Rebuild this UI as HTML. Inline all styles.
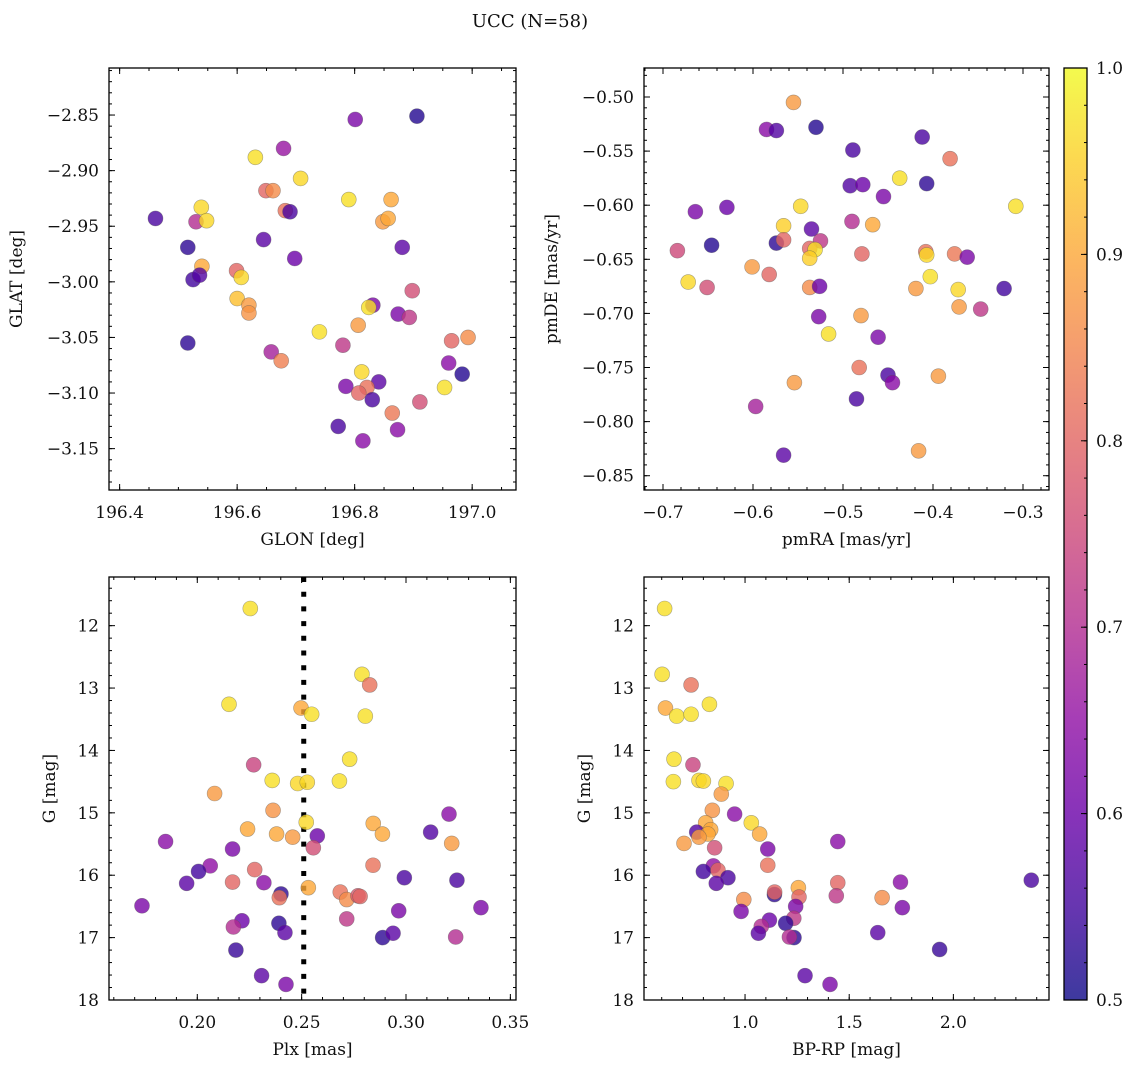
<!DOCTYPE html>
<html><head><meta charset="utf-8"><style>
body{margin:0;background:#fff;}
svg{display:block;font-family:"DejaVu Serif","Liberation Serif",serif;}
</style></head><body>
<svg id="fig" width="1136" height="1067" viewBox="0 0 1136 1067">
<text x="530" y="27" font-size="18" text-anchor="middle" fill="#111">UCC (N=58)</text>
</svg>
<script>
// Panel 1: GLON / GLAT
const glon=[196.801,196.906,196.679,196.631,196.708,196.649,196.661,196.790,196.862,196.682,196.690,196.848,196.857,196.461,196.539,196.530,196.548,196.645,196.516,196.881,196.698,196.540,196.525,196.536,196.599,196.607,196.600,196.620,196.620,196.898,196.831,196.824,196.874,196.893,196.740,196.806,196.516,196.780,196.658,196.675,196.965,196.993,196.960,196.983,196.812,196.785,196.841,196.821,196.807,196.830,196.953,196.911,196.864,196.772,196.873,196.814];
const glat=[-2.854,-2.851,-2.880,-2.888,-2.907,-2.918,-2.918,-2.926,-2.926,-2.936,-2.937,-2.946,-2.943,-2.943,-2.933,-2.946,-2.945,-2.962,-2.969,-2.969,-2.979,-2.986,-2.998,-2.994,-2.990,-2.996,-3.015,-3.021,-3.028,-3.008,-3.021,-3.023,-3.029,-3.032,-3.045,-3.039,-3.055,-3.057,-3.063,-3.071,-3.053,-3.050,-3.073,-3.083,-3.081,-3.094,-3.090,-3.095,-3.100,-3.106,-3.095,-3.108,-3.118,-3.130,-3.133,-3.143];
const prob1=[.62,.52,.66,.97,.96,.8,.86,.97,.9,.82,.56,.88,.9,.56,.96,.7,.96,.58,.53,.58,.6,.9,.55,.57,.8,.96,.93,.88,.87,.76,.62,.97,.62,.72,.97,.88,.53,.72,.68,.84,.8,.86,.64,.52,.96,.62,.58,.82,.8,.56,.97,.76,.83,.56,.64,.64];
// Panel 2: pmRA / pmDE
const pmra=[-0.555,-0.585,-0.574,-0.530,-0.489,-0.412,-0.381,-0.437,-0.407,-0.492,-0.478,-0.455,-0.308,-0.664,-0.629,-0.547,-0.566,-0.535,-0.490,-0.467,-0.684,-0.646,-0.574,-0.566,-0.525,-0.537,-0.531,-0.537,-0.479,-0.408,-0.407,-0.376,-0.362,-0.601,-0.582,-0.672,-0.651,-0.537,-0.526,-0.419,-0.403,-0.372,-0.321,-0.371,-0.347,-0.527,-0.480,-0.516,-0.461,-0.482,-0.450,-0.445,-0.394,-0.554,-0.597,-0.485,-0.566,-0.416];
const pmde=[-0.505,-0.530,-0.531,-0.528,-0.549,-0.537,-0.557,-0.575,-0.580,-0.582,-0.581,-0.592,-0.601,-0.606,-0.602,-0.601,-0.619,-0.622,-0.615,-0.618,-0.642,-0.637,-0.635,-0.632,-0.633,-0.640,-0.641,-0.649,-0.645,-0.643,-0.646,-0.645,-0.648,-0.657,-0.664,-0.671,-0.676,-0.676,-0.675,-0.677,-0.666,-0.678,-0.677,-0.694,-0.696,-0.703,-0.702,-0.719,-0.722,-0.750,-0.757,-0.764,-0.758,-0.764,-0.786,-0.779,-0.831,-0.827];
const prob2=[.88,.64,.57,.52,.56,.56,.82,.97,.53,.57,.6,.62,.97,.62,.6,.96,.95,.58,.7,.9,.75,.52,.53,.8,.72,.8,.97,.95,.8,.82,.96,.83,.62,.88,.8,.96,.76,.86,.6,.88,.97,.96,.55,.88,.72,.62,.88,.97,.62,.82,.56,.64,.88,.88,.68,.56,.58,.88];
// Panel 3: Plx / G
const plx=[0.2254,0.2789,0.2826,0.2152,0.2497,0.2548,0.2805,0.2730,0.2270,0.2359,0.2481,0.2527,0.2681,0.2083,0.2363,0.3206,0.2522,0.2843,0.2241,0.2380,0.2887,0.2457,0.3118,0.2575,0.1848,0.3219,0.2556,0.2169,0.2062,0.2006,0.2275,0.2842,0.2992,0.1949,0.2169,0.2319,0.3244,0.2532,0.2401,0.2393,0.2685,0.2716,0.2770,0.2780,0.1735,0.3359,0.2965,0.2716,0.2214,0.2173,0.2391,0.2420,0.2888,0.2938,0.3238,0.2185,0.2308,0.2425];
const g3=[11.725,12.78,12.95,13.26,13.32,13.42,13.45,14.14,14.23,14.48,14.53,14.51,14.49,14.69,14.96,15.02,15.15,15.17,15.26,15.34,15.34,15.39,15.31,15.37,15.46,15.49,15.56,15.58,15.85,15.94,15.91,15.84,16.04,16.13,16.11,16.12,16.08,16.20,16.30,16.36,16.27,16.39,16.33,16.34,16.49,16.52,16.57,16.70,16.73,16.83,16.77,16.92,17.00,16.93,16.99,17.20,17.61,17.75];
const prob3=[.97,.97,.82,.97,.9,.97,.97,.97,.74,.97,.96,.96,.97,.88,.87,.64,.96,.9,.9,.9,.9,.88,.57,.6,.64,.88,.76,.62,.65,.55,.8,.82,.56,.58,.8,.64,.56,.9,.53,.82,.82,.86,.78,.8,.62,.62,.62,.72,.6,.7,.53,.58,.53,.58,.7,.54,.58,.62];
const plxLine=[0.251];
// Panel 4: BP-RP / G
const bprp=[0.614,0.602,0.741,0.829,0.618,0.672,0.741,0.659,0.750,0.656,0.779,0.800,0.909,0.886,0.843,0.950,1.030,0.811,0.835,1.070,0.768,0.822,0.779,0.707,0.854,1.445,1.109,1.109,0.848,0.800,0.870,0.918,0.862,1.445,1.746,2.374,1.256,1.141,1.142,1.259,1.438,1.658,0.994,1.243,1.755,0.981,1.234,1.117,1.078,1.195,1.064,1.235,1.213,1.637,1.934,1.288,1.408];
const g4=[11.725,12.78,12.95,13.26,13.32,13.45,13.42,14.14,14.23,14.50,14.48,14.49,14.53,14.70,14.96,15.02,15.16,15.16,15.27,15.34,15.31,15.34,15.39,15.49,15.56,15.46,15.58,15.84,15.85,15.94,15.92,16.04,16.13,16.12,16.11,16.08,16.20,16.31,16.27,16.35,16.33,16.36,16.39,16.50,16.52,16.58,16.69,16.72,16.82,16.77,16.93,17.00,16.99,16.92,17.19,17.61,17.75];
const prob4=[.97,.97,.82,.97,.9,.97,.97,.97,.74,.97,.96,.96,.97,.88,.87,.64,.96,.9,.9,.9,.57,.9,.88,.88,.76,.64,.62,.82,.65,.55,.8,.56,.58,.8,.64,.56,.9,.53,.8,.8,.72,.86,.86,.62,.62,.62,.72,.6,.7,.53,.58,.53,.7,.58,.54,.58,.62];
const cbTicks=[0.5,0.6,0.7,0.8,0.9,1.0];

const NS='http://www.w3.org/2000/svg';
const svg=document.getElementById('fig');
function mk(tag,attrs,parent){const e=document.createElementNS(NS,tag);for(const k in attrs)e.setAttribute(k,attrs[k]);(parent||svg).appendChild(e);return e;}
const stops=['#0d0887','#41049d','#6a00a8','#8f0da4','#b12a90','#cc4778','#e16462','#f2844b','#fca636','#fcce25','#f0f921'];
function hex(h){return [1,3,5].map(i=>parseInt(h.substr(i,2),16));}
function plasma(t){t=Math.max(0,Math.min(1,t));const f=t*10,i=Math.min(9,Math.floor(f)),r=f-i;const a=hex(stops[i]),b=hex(stops[i+1]);return 'rgb('+a.map((v,k)=>Math.round(v+(b[k]-v)*r)).join(',')+')';}
function cmap(p){return plasma((p-0.5)/0.5);}
function fmt(v,d){const s=Math.abs(v).toFixed(d);return (v<-1e-9?'\u2212':'')+s;}

function panel(o){
  const g=mk('g',{});
  
  
  const sx=v=>o.x0+(v-o.xmin)/(o.xmax-o.xmin)*(o.x1-o.x0);
  const sy=v=>o.y0+(v-o.ymax)/(o.ymin-o.ymax)*(o.y1-o.y0);
  const tg=mk('g',{stroke:'#000','stroke-width':1},g);
  function ticksX(step,len,labels){const s=Math.ceil((o.xmin)/step-1e-6);for(let k=s;k*step<=o.xmax+1e-9;k++){const v=k*step,x=sx(v);mk('line',{x1:x,x2:x,y1:o.y1,y2:o.y1-len},tg);mk('line',{x1:x,x2:x,y1:o.y0,y2:o.y0+len},tg);
    if(labels){const t=mk('text',{x:x,y:o.y1+28,'font-size':17,'text-anchor':'middle',fill:'#111',stroke:'none'},g);t.textContent=fmt(v,o.xd);}}}
  function ticksY(step,len,labels){const s=Math.ceil(Math.min(o.ymin,o.ymax)/step-1e-6);const hi=Math.max(o.ymin,o.ymax);for(let k=s;k*step<=hi+1e-9;k++){const v=k*step,y=sy(v);mk('line',{x1:o.x0,x2:o.x0+len,y1:y,y2:y},tg);mk('line',{x1:o.x1,x2:o.x1-len,y1:y,y2:y},tg);
    if(labels){const t=mk('text',{x:o.x0-10,y:y+6,'font-size':17,'text-anchor':'end',fill:'#111',stroke:'none'},g);t.textContent=fmt(v,o.yd);}}}
  ticksX(o.xminor,3,false);ticksX(o.xmajor,6,true);
  ticksY(o.yminor,3,false);ticksY(o.ymajor,6,true);
  if(o.vline){o.vline.forEach(v=>{const l=mk('line',{x1:sx(v),x2:sx(v),y1:o.y0,y2:o.y1,stroke:'#000','stroke-width':5,'stroke-dasharray':'5 9.7'},g);});}
  const pg=mk('g',{},g);
  
  
  for(let i=0;i<o.xs.length;i++){
    const c=mk('circle',{cx:sx(o.xs[i]),cy:sy(o.ys[i]),r:7.5,fill:cmap(o.c[i]),'fill-opacity':0.8,stroke:'#555','stroke-opacity':0.5,'stroke-width':0.6},pg);
    
    
  }
  const fr=mk('rect',{x:o.x0,y:o.y0,width:o.x1-o.x0,height:o.y1-o.y0,fill:'none',stroke:'#000','stroke-width':1.3},g);
  
  
  const xl=mk('text',{x:(o.x0+o.x1)/2,y:o.y1+55,'font-size':17,'text-anchor':'middle',fill:'#111'},g);xl.textContent=o.xlabel;
  
  
  const yx=o.ylx,yy=(o.y0+o.y1)/2;
  const yl=mk('text',{x:yx,y:yy,'font-size':17,'text-anchor':'middle',fill:'#111',transform:'rotate(-90 '+yx+' '+yy+')'},g);yl.textContent=o.ylabel;
  
  
}
panel({name:'glon-glat-panel',x0:109,x1:516,y0:68,y1:490,xmin:196.3819,xmax:197.0746,ymin:-3.1872,ymax:-2.8077,xmajor:0.2,xminor:0.05,ymajor:0.05,yminor:0.01,xd:1,yd:2,xs:glon,ys:glat,c:prob1,xlabel:'GLON [deg]',ylabel:'GLAT [deg]',ylx:22});
panel({name:'pm-panel',x0:644,x1:1049,y0:68,y1:490,xmin:-0.7211,xmax:-0.2711,ymin:-0.8632,ymax:-0.4732,xmajor:0.1,xminor:0.02,ymajor:0.05,yminor:0.01,xd:1,yd:2,xs:pmra,ys:pmde,c:prob2,xlabel:'pmRA [mas/yr]',ylabel:'pmDE [mas/yr]',ylx:557});
panel({name:'plx-g-panel',x0:109,x1:516,y0:577,y1:1000,xmin:0.1577,xmax:0.3527,ymin:18.0,ymax:11.22,xmajor:0.05,xminor:0.01,ymajor:1,yminor:0.2,xd:2,yd:0,xs:plx,ys:g3,c:prob3,xlabel:'Plx [mas]',ylabel:'G [mag]',ylx:55,vline:plxLine});
panel({name:'cmd-panel',x0:644,x1:1049,y0:577,y1:1000,xmin:0.515,xmax:2.459,ymin:18.0,ymax:11.22,xmajor:0.5,xminor:0.1,ymajor:1,yminor:0.2,xd:1,yd:0,xs:bprp,ys:g4,c:prob4,xlabel:'BP-RP [mag]',ylabel:'G [mag]',ylx:590});

// colorbar
const cb=mk('g',{});


const defs=mk('defs',{},cb);
const lg=mk('linearGradient',{id:'pl',x1:0,y1:1,x2:0,y2:0},defs);
stops.forEach((s,i)=>mk('stop',{offset:i/10,'stop-color':s,'stop-opacity':0.8},lg));
const cx0=1064,cx1=1087,cy0=68,cy1=1000;
mk('rect',{x:cx0,y:cy0,width:cx1-cx0,height:cy1-cy0,fill:'url(#pl)'},cb);
mk('rect',{x:cx0,y:cy0,width:cx1-cx0,height:cy1-cy0,fill:'none',stroke:'#000','stroke-width':1.3},cb);
const cy=v=>cy1-(v-0.5)/0.5*(cy1-cy0);
for(let k=25;k<=50;k++){const v=k/50,y=cy(v);mk('line',{x1:cx1,x2:cx1-3,y1:y,y2:y,stroke:'#000'},cb);}
cbTicks.forEach(v=>{const y=cy(v);mk('line',{x1:cx1,x2:cx1-6,y1:y,y2:y,stroke:'#000'},cb);const t=mk('text',{x:cx1+9,y:y+6,'font-size':17,fill:'#111'},cb);t.textContent=v.toFixed(1);

});
</script>
</body></html>
